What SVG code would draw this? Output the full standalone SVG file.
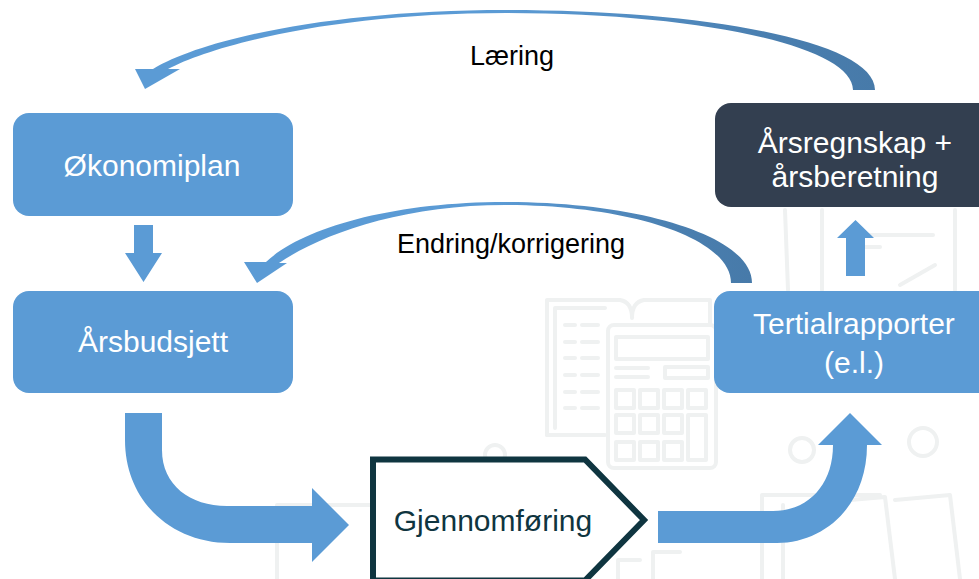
<svg xmlns="http://www.w3.org/2000/svg" width="979" height="579" viewBox="0 0 979 579">
  <defs>
    <linearGradient id="arcGrad" x1="0" y1="0" x2="1" y2="0">
      <stop offset="0" stop-color="#5b9bd5"/>
      <stop offset="0.5" stop-color="#5b9bd5"/>
      <stop offset="0.85" stop-color="#4a7fb0"/>
      <stop offset="1" stop-color="#477aa9"/>
    </linearGradient>
    <style>
      .bg { fill: none; stroke: #eff1f1; stroke-width: 4; stroke-linecap: round; stroke-linejoin: round; }
      .box { fill: #5b9bd5; }
      .dark { fill: #333f50; }
      .flow { fill: #5b9bd5; }
      .arc { fill: url(#arcGrad); }
      .lbl { font-family: "Liberation Sans", Arial, sans-serif; font-size: 30px; fill: #ffffff; text-anchor: middle; }
      .note { font-family: "Liberation Sans", Arial, sans-serif; font-size: 27px; fill: #000000; text-anchor: middle; }
      .step { fill: #ffffff; stroke: #0f3540; stroke-width: 6; stroke-linejoin: miter; }
      .stepTxt { font-family: "Liberation Sans", Arial, sans-serif; font-size: 30px; fill: #0f3540; text-anchor: middle; }
    </style>
  </defs>

  <rect width="979" height="579" fill="#ffffff"/>

  <!-- faint background illustration -->
  <g id="background">
    <!-- book + calculator -->
    <path class="bg" d="M547,435 L547,300 L620,300 Q632,302 632,318 Q632,302 644,300 L710,300 L710,325"/>
    <path class="bg" d="M555,428 L555,308 L605,308"/>
    <path class="bg" d="M547,435 L605,435"/>
    <g class="bg">
      <line x1="565" y1="325" x2="575" y2="325"/><line x1="582" y1="325" x2="598" y2="325"/>
      <line x1="565" y1="342" x2="575" y2="342"/><line x1="582" y1="342" x2="598" y2="342"/>
      <line x1="565" y1="358" x2="575" y2="358"/><line x1="582" y1="358" x2="598" y2="358"/>
      <line x1="565" y1="375" x2="575" y2="375"/><line x1="582" y1="375" x2="598" y2="375"/>
      <line x1="565" y1="392" x2="575" y2="392"/><line x1="582" y1="392" x2="598" y2="392"/>
      <line x1="565" y1="408" x2="575" y2="408"/><line x1="582" y1="408" x2="598" y2="408"/>
    </g>
    <rect class="bg" x="608" y="325" width="108" height="143" rx="6"/>
    <rect class="bg" x="616" y="337" width="92" height="22"/>
    <line class="bg" x1="616" y1="368" x2="648" y2="368"/>
    <line class="bg" x1="616" y1="377" x2="648" y2="377"/>
    <rect class="bg" x="665" y="367" width="43" height="11"/>
    <g class="bg">
      <rect x="616" y="390" width="18" height="18"/><rect x="640" y="390" width="18" height="18"/><rect x="664" y="390" width="18" height="18"/><rect x="688" y="390" width="18" height="18"/>
      <rect x="616" y="415" width="18" height="18"/><rect x="640" y="415" width="18" height="18"/><rect x="664" y="415" width="18" height="18"/><rect x="688" y="415" width="18" height="45"/>
      <rect x="616" y="442" width="18" height="18"/><rect x="640" y="442" width="18" height="18"/><rect x="664" y="442" width="18" height="18"/>
    </g>
    <!-- circles -->
    <circle class="bg" cx="495" cy="455" r="10"/>
    <circle class="bg" cx="602" cy="503" r="17"/>
    <circle class="bg" cx="802" cy="450" r="12"/>
    <circle class="bg" cx="923" cy="442" r="14"/>
    <!-- bottom documents -->
    <path class="bg" d="M277,579 L277,505 L493,505 L493,579"/>
    <path class="bg" d="M435,579 L435,537 L470,537 L470,579"/>
    <path class="bg" d="M392,579 L392,565 L417,565"/>
    <path class="bg" d="M618,579 L618,560 L640,560"/>
    <path class="bg" d="M653,579 L653,552 L680,552"/>
    <path class="bg" d="M762,579 L762,495 L880,495"/>
    <path class="bg" d="M783,505 L783,579"/>
    <path class="bg" d="M850,500 L885,497 L895,579"/>
    <path class="bg" d="M895,500 L950,495 L960,579"/>
    <!-- clipboard behind upper right -->
    <path class="bg" d="M785,210 L788,290"/>
    <path class="bg" d="M822,210 L822,290"/>
    <path class="bg" d="M955,210 L955,290"/>
    <line class="bg" x1="857" y1="235" x2="933" y2="235"/>
    <line class="bg" x1="857" y1="247" x2="880" y2="247"/>
    <path class="bg" d="M900,285 L935,265"/>
  </g>

  <!-- connectors -->
  <g id="connectors">
    <!-- Økonomiplan -> Årsbudsjett -->
    <path class="flow" d="M134,225 L153,225 L153,253 L162,253 L143.5,282 L125,253 L134,253 Z"/>
    <!-- Tertialrapporter -> Årsregnskap -->
    <path class="flow" d="M846,276 L865,276 L865,238 L874,238 L855.5,220 L837,238 L846,238 Z"/>
    <!-- Årsbudsjett -> Gjennomføring -->
    <path class="flow" d="M125,413 L162,413 L162,450 C162,485 190,506 227,506 L312,506 L312,488 L349,525 L312,562 L312,543 L230,543 C170,543 125,500 125,440 Z"/>
    <!-- Gjennomføring -> Tertialrapporter -->
    <path class="flow" d="M658,511 L773,511 C808,511 833,485 833,445 L818,445 L850,413 L882,445 L867,445 C867,505 825,543 777,543 L658,543 Z"/>
    <!-- Endring/korrigering arc -->
    <path class="arc" d="M752,283 C752,236 640,202 505,202 C392,202 302,228 266,262 L244,262 L257,283 L287,263 L279,263 C322,234 402,205 505,205 C630,205 731,238 731,283 Z"/>
    <!-- Læring arc -->
    <path class="arc" d="M875,90 C875,40 700,10 506,10 C335,10 205,38 153,69 L135,69 L145,89 L180,69 L168,69 C215,44 338,13 506,13 C695,13 853,45 853,90 Z"/>
    <text class="note" x="512" y="65">Læring</text>
    <text class="note" x="511" y="253">Endring/korrigering</text>
  </g>

  <!-- nodes -->
  <g id="okonomiplan">
    <rect class="box" x="13" y="113" width="280" height="103" rx="16"/>
    <text class="lbl" x="152" y="176">Økonomiplan</text>
  </g>
  <g id="arsbudsjett">
    <rect class="box" x="13" y="291" width="280" height="102" rx="16"/>
    <text class="lbl" x="153" y="352">Årsbudsjett</text>
  </g>
  <g id="gjennomforing">
    <path class="step" d="M373,459.5 L585,459.5 L644,520 L585,580.5 L373,580.5 Z"/>
    <text class="stepTxt" x="493" y="531">Gjennomføring</text>
  </g>
  <g id="tertialrapporter">
    <rect class="box" x="714" y="291" width="282" height="102" rx="16"/>
    <text class="lbl" x="854" y="334">Tertialrapporter</text>
    <text class="lbl" x="854" y="373">(e.l.)</text>
  </g>
  <g id="arsregnskap">
    <rect class="dark" x="715" y="103" width="282" height="104" rx="16"/>
    <text class="lbl" x="855" y="153">Årsregnskap +</text>
    <text class="lbl" x="855" y="187">årsberetning</text>
  </g>
</svg>
